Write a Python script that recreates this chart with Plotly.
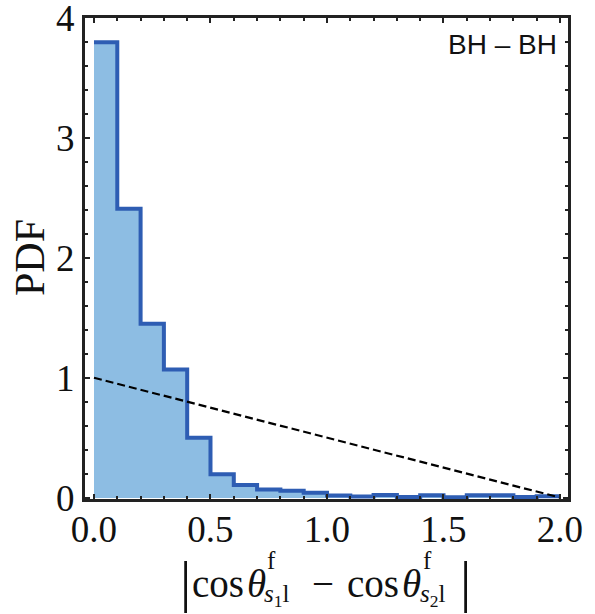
import plotly.graph_objects as go

# ---- data ----
bin_edges = [0.0, 0.1, 0.2, 0.3, 0.4, 0.5, 0.6, 0.7, 0.8, 0.9, 1.0,
             1.1, 1.2, 1.3, 1.4, 1.5, 1.6, 1.7, 1.8, 1.9, 2.0]
pdf_vals = [3.80, 2.41, 1.45, 1.07, 0.50, 0.195, 0.105, 0.068, 0.056, 0.040,
            0.017, 0.008, 0.022, 0.005, 0.019, 0.003, 0.019, 0.019, 0.004, 0.010]
ref_x = [0.0, 2.0]
ref_pdf = [1.0, 0.0]
x_tickvals = [0.0, 0.5, 1.0, 1.5, 2.0]
x_ticktext = ["0.0", "0.5", "1.0", "1.5", "2.0"]
y_tickvals = [0, 1, 2, 3, 4]
y_ticktext = ["0", "1", "2", "3", "4"]

FILL = "#8dbde3"
EDGE = "#2e5db3"
FRAME = "#222222"
SERIF = "Liberation Serif, Times New Roman, serif"
SANS = "Liberation Sans, Arial, sans-serif"

centers = [(a + b) / 2 for a, b in zip(bin_edges[:-1], bin_edges[1:])]
widths = [b - a for a, b in zip(bin_edges[:-1], bin_edges[1:])]

fig = go.Figure()
fig.add_trace(go.Bar(x=centers, y=pdf_vals, width=widths,
                     marker=dict(color=FILL, line=dict(width=0)),
                     showlegend=False, hoverinfo="skip"))
fig.add_trace(go.Scatter(x=bin_edges, y=pdf_vals + [pdf_vals[-1]],
                         mode="lines", line=dict(color=EDGE, width=4, shape="hv"),
                         showlegend=False, hoverinfo="skip"))
fig.add_trace(go.Scatter(x=ref_x, y=ref_pdf, mode="lines",
                         line=dict(color="black", width=2.2, dash="8px,4px"),
                         showlegend=False, hoverinfo="skip"))

# layout geometry (pixels)
L, R, T, B = 85, 27, 18, 115
W, H = 595, 614
pw, ph = W - L - R, H - T - B


def px_x(p):
    return (p - L) / pw


def px_y(p):
    return (H - B - p) / ph


axis_common = dict(showline=True, linecolor=FRAME, linewidth=3, mirror="ticks",
                   ticks="inside", ticklen=5, tickwidth=2, tickcolor=FRAME,
                   showgrid=False, zeroline=False, automargin=False,
                   ticklabeloverflow="allow",
                   tickfont=dict(family=SERIF, size=37, color="#111"))

fig.update_xaxes(range=[-0.0386, 2.0344], tickvals=x_tickvals, ticktext=x_ticktext,
                 ticklabelstandoff=-4,
                 minor=dict(dtick=0.1, tick0=0, ticks="inside", ticklen=3,
                            tickwidth=2, tickcolor=FRAME, showgrid=False),
                 **axis_common)
fig.update_yaxes(range=[-0.012, 4.003], tickvals=y_tickvals, ticktext=y_ticktext,
                 minor=dict(dtick=0.2, tick0=0, ticks="inside", ticklen=3,
                            tickwidth=2, tickcolor=FRAME, showgrid=False),
                 **axis_common)

ann = []
# y title
ann.append(dict(text="PDF", x=px_x(30), y=px_y(258), xref="paper", yref="paper",
                textangle=-90, showarrow=False, xanchor="center", yanchor="middle",
                font=dict(family=SERIF, size=42, color="#111")))
# BH - BH label
ann.append(dict(text="BH – BH", x=px_x(559), y=px_y(45), xref="paper", yref="paper",
                showarrow=False, xanchor="right", yanchor="middle",
                font=dict(family=SANS, size=28, color="#111")))

# x title pieces
main_y = 583
main_font = dict(family=SERIF, size=39, color="#111")
small_font = dict(family=SERIF, size=25, color="#111")
bar_font = dict(family=SERIF, size=56, color="#111")
pieces = [
    ("|", 178, 582, bar_font),
    ("cos", 190, main_y, main_font),
    ("<i>θ</i>", 245, main_y, main_font),
    ("f", 265, 560, small_font),
    ("<i>s</i><sub>1</sub>l", 262, 595, small_font),
    ("−", 310, main_y, main_font),
    ("cos", 345, main_y, main_font),
    ("<i>θ</i>", 400, main_y, main_font),
    ("f", 421, 560, small_font),
    ("<i>s</i><sub>2</sub>l", 418, 595, small_font),
    ("|", 458, 582, bar_font),
]
for txt, xp, yp, fnt in pieces:
    ann.append(dict(text=txt, x=px_x(xp), y=px_y(yp), xref="paper", yref="paper",
                    showarrow=False, xanchor="left", yanchor="middle", font=fnt))

fig.update_layout(width=W, height=H, margin=dict(l=L, r=R, t=T, b=B),
                  paper_bgcolor="white", plot_bgcolor="white",
                  bargap=0, annotations=ann)

fig.write_html("out.html", config=dict(displayModeBar=False, staticPlot=True),
               post_script="document.body.style.margin='0px';")
